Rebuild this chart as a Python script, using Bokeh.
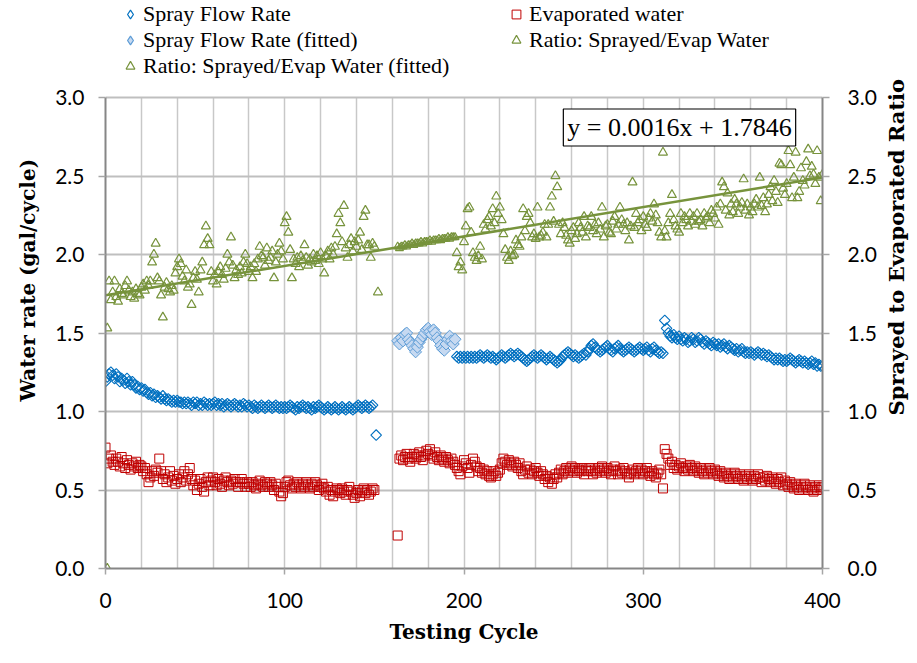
import math
import numpy as np
from bokeh.plotting import figure
from bokeh.layouts import row
from bokeh.models import (Range1d, LinearAxis, SingleIntervalTicker, NumeralTickFormatter,
                          Legend, LegendItem, Label, Title, BoxAnnotation)
from bokeh.embed import file_html
from bokeh.resources import INLINE

# ---------------- data ----------------
# Spray flow rate (gal/cycle): cycles 0-149, one outlier at 151, cycles 196-400
spray_a_start = 0
spray_a = [1.19, 1.22, 1.24, 1.25, 1.23, 1.21, 1.24, 1.22, 1.19, 1.21,
           1.20, 1.18, 1.21, 1.19, 1.17, 1.19, 1.17, 1.15, 1.16, 1.14,
           1.15, 1.13, 1.14, 1.12, 1.11, 1.12, 1.10, 1.11, 1.09, 1.10,
           1.09, 1.08, 1.10, 1.08, 1.07, 1.08, 1.07, 1.06, 1.07, 1.06,
           1.07, 1.06, 1.06, 1.05, 1.06, 1.05, 1.06, 1.05, 1.04, 1.06,
           1.05, 1.06, 1.04, 1.05, 1.04, 1.06, 1.05, 1.04, 1.05, 1.04,
           1.05, 1.06, 1.04, 1.05, 1.04, 1.05, 1.03, 1.04, 1.05, 1.04,
           1.03, 1.04, 1.05, 1.04, 1.03, 1.04, 1.03, 1.05, 1.04, 1.03,
           1.04, 1.03, 1.02, 1.04, 1.03, 1.02, 1.03, 1.04, 1.03, 1.02,
           1.03, 1.04, 1.03, 1.02, 1.03, 1.04, 1.03, 1.02, 1.03, 1.02,
           1.03, 1.02, 1.03, 1.04, 1.03, 1.02, 1.01, 1.03, 1.02, 1.03,
           1.04, 1.03, 1.02, 1.03, 1.02, 1.01, 1.03, 1.02, 1.03, 1.04,
           1.03, 1.02, 1.01, 1.02, 1.03, 1.02, 1.01, 1.02, 1.03, 1.02,
           1.01, 1.02, 1.03, 1.02, 1.01, 1.02, 1.03, 1.02, 1.01, 1.02,
           1.03, 1.04, 1.03, 1.02, 1.03, 1.04, 1.03, 1.02, 1.03, 1.04]
spray_outlier_cycles = [151]
spray_outlier = [0.85]
spray_b_start = 196
spray_b = [1.35, 1.34, 1.35, 1.34,
           1.35, 1.34, 1.35, 1.34, 1.35, 1.34, 1.35, 1.34, 1.35, 1.36,
           1.35, 1.34, 1.35, 1.36, 1.35, 1.34, 1.35, 1.34, 1.33, 1.34,
           1.35, 1.36, 1.35, 1.34, 1.35, 1.36, 1.37, 1.36, 1.35, 1.36,
           1.37, 1.36, 1.35, 1.34, 1.33, 1.32, 1.33, 1.34, 1.35, 1.36,
           1.35, 1.34, 1.35, 1.36, 1.35, 1.34, 1.33, 1.34, 1.35, 1.34,
           1.33, 1.32, 1.31, 1.32, 1.33, 1.35, 1.36, 1.37, 1.38, 1.37,
           1.36, 1.35, 1.36, 1.35, 1.34, 1.35, 1.36, 1.37, 1.36, 1.38,
           1.40, 1.42, 1.43, 1.41, 1.40, 1.39, 1.38, 1.39, 1.40, 1.41,
           1.42, 1.40, 1.39, 1.38, 1.40, 1.41, 1.42, 1.40, 1.39, 1.38,
           1.39, 1.40, 1.41, 1.40, 1.39, 1.38, 1.39, 1.40, 1.41, 1.40,
           1.39, 1.40, 1.41, 1.39, 1.38, 1.40, 1.41, 1.39, 1.38, 1.37,
           1.38, 1.37, 1.58, 1.53, 1.50, 1.48, 1.47, 1.49, 1.47, 1.46,
           1.48, 1.46, 1.45, 1.47, 1.46, 1.44, 1.45, 1.47, 1.46, 1.44,
           1.45, 1.47, 1.46, 1.44, 1.43, 1.45, 1.44, 1.43, 1.42, 1.44,
           1.43, 1.42, 1.43, 1.41, 1.42, 1.43, 1.41, 1.40, 1.42, 1.41,
           1.40, 1.39, 1.40, 1.38, 1.39, 1.40, 1.38, 1.37, 1.38, 1.37,
           1.38, 1.37, 1.36, 1.37, 1.38, 1.37, 1.36, 1.37, 1.36, 1.35,
           1.36, 1.35, 1.34, 1.33, 1.34, 1.33, 1.34, 1.33, 1.32, 1.33,
           1.32, 1.33, 1.34, 1.33, 1.32, 1.31, 1.32, 1.33, 1.32, 1.31,
           1.32, 1.31, 1.30, 1.31, 1.32, 1.30, 1.31, 1.29, 1.30, 1.29,
           1.29]

# Spray flow rate (fitted): cycles 163-195
spray_fit_start = 163
spray_fit = [1.45, 1.43, 1.47, 1.45, 1.49, 1.50, 1.46, 1.44, 1.42, 1.40,
             1.38, 1.41, 1.44, 1.46, 1.48, 1.50, 1.52, 1.53, 1.51, 1.49,
             1.52, 1.50, 1.47, 1.45, 1.42, 1.40, 1.39, 1.43, 1.46, 1.48,
             1.45, 1.43, 1.46]

# Evaporated water (gal/cycle): cycles 0-150, outlier at 163, cycles 164-400
evap_a_start = 0
evap_a = [0.77, 0.67, 0.70, 0.72, 0.68, 0.66, 0.70, 0.68, 0.65, 0.71,
          0.67, 0.64, 0.69, 0.66, 0.63, 0.67, 0.65, 0.68, 0.64, 0.66,
          0.65, 0.62, 0.64, 0.60, 0.55, 0.58, 0.62, 0.59, 0.63, 0.61,
          0.70, 0.62, 0.57, 0.60, 0.55, 0.58, 0.62, 0.56, 0.59, 0.54,
          0.57, 0.60, 0.55, 0.58, 0.62, 0.56, 0.60, 0.64, 0.57, 0.53,
          0.56, 0.50, 0.54, 0.57, 0.52, 0.49, 0.55, 0.58, 0.53, 0.56,
          0.58, 0.55, 0.53, 0.57, 0.54, 0.52, 0.56, 0.58, 0.55, 0.53,
          0.56, 0.54, 0.57, 0.55, 0.52, 0.55, 0.57, 0.54, 0.52, 0.55,
          0.54, 0.52, 0.55, 0.53, 0.51, 0.54, 0.56, 0.53, 0.52, 0.55,
          0.54, 0.52, 0.55, 0.53, 0.50, 0.54, 0.52, 0.49, 0.46, 0.48,
          0.52, 0.55, 0.56, 0.53, 0.51, 0.54, 0.52, 0.55, 0.53, 0.51,
          0.54, 0.52, 0.55, 0.53, 0.51, 0.54, 0.52, 0.55, 0.53, 0.50,
          0.52, 0.54, 0.51, 0.49, 0.52, 0.47, 0.50, 0.46, 0.49, 0.51,
          0.50, 0.48, 0.51, 0.49, 0.47, 0.50, 0.52, 0.49, 0.47, 0.45,
          0.48, 0.50, 0.46, 0.49, 0.51, 0.48, 0.50, 0.47, 0.49, 0.51,
          0.50]
evap_outlier_cycles = [163]
evap_outlier = [0.21]
evap_b_start = 164
evap_b = [0.70, 0.72, 0.69, 0.71, 0.73, 0.70,
          0.68, 0.71, 0.73, 0.70, 0.72, 0.74, 0.71, 0.69, 0.72, 0.75,
          0.73, 0.76, 0.72, 0.70, 0.74, 0.71, 0.69, 0.72, 0.70, 0.68,
          0.71, 0.69, 0.67, 0.70, 0.68, 0.66, 0.64, 0.62, 0.60, 0.65,
          0.69, 0.67, 0.64, 0.61, 0.66, 0.70, 0.68, 0.65, 0.62, 0.64,
          0.61, 0.63, 0.60, 0.62, 0.59, 0.58, 0.60, 0.62, 0.59, 0.61,
          0.63, 0.67, 0.70, 0.68, 0.66, 0.69, 0.67, 0.65, 0.68, 0.66,
          0.64, 0.67, 0.62, 0.60, 0.63, 0.65, 0.61, 0.63, 0.60, 0.62,
          0.64, 0.61, 0.59, 0.62, 0.60, 0.57, 0.59, 0.55, 0.58, 0.54,
          0.57, 0.60, 0.58, 0.61, 0.63, 0.60, 0.62, 0.64, 0.61, 0.63,
          0.65, 0.62, 0.64, 0.61, 0.63, 0.62, 0.64, 0.60, 0.63, 0.62,
          0.64, 0.62, 0.60, 0.63, 0.61, 0.64, 0.62, 0.65, 0.63, 0.61,
          0.64, 0.62, 0.60, 0.63, 0.65, 0.62, 0.60, 0.63, 0.61, 0.64,
          0.62, 0.60, 0.58, 0.61, 0.63, 0.60, 0.62, 0.64, 0.61, 0.63,
          0.60, 0.62, 0.64, 0.61, 0.59, 0.62, 0.60, 0.58, 0.61, 0.63,
          0.60, 0.51, 0.76, 0.73, 0.70, 0.66, 0.68, 0.64, 0.66, 0.63,
          0.65, 0.67, 0.64, 0.62, 0.65, 0.63, 0.66, 0.64, 0.62, 0.65,
          0.63, 0.61, 0.64, 0.62, 0.60, 0.63, 0.61, 0.64, 0.62, 0.60,
          0.63, 0.61, 0.59, 0.62, 0.60, 0.58, 0.61, 0.59, 0.57, 0.60,
          0.58, 0.61, 0.59, 0.57, 0.60, 0.58, 0.56, 0.59, 0.57, 0.60,
          0.58, 0.56, 0.59, 0.57, 0.60, 0.58, 0.55, 0.58, 0.56, 0.59,
          0.57, 0.55, 0.58, 0.56, 0.54, 0.57, 0.55, 0.58, 0.53, 0.56,
          0.54, 0.52, 0.55, 0.53, 0.51, 0.54, 0.52, 0.50, 0.53, 0.51,
          0.54, 0.52, 0.50, 0.53, 0.51, 0.49, 0.52, 0.50, 0.53, 0.51,
          0.52]

# Ratio sprayed / evaporated water
ratio_first_cycles = [1, 1]
ratio_first = [0.00, 1.53]
ratio_a_start = 2
ratio_a = [1.83, 1.71, 1.76, 1.83, 1.73, 1.70, 1.78, 1.75,
           1.74, 1.80, 1.83, 1.77, 1.73, 1.76, 1.72, 1.78, 1.75, 1.74,
           1.79, 1.81, 1.77, 1.83, 1.80, 1.83, 1.95, 2.00, 2.07, 1.85,
           1.83, 1.74, 1.60, 1.79, 1.82, 1.78, 1.76, 1.80, 1.77, 1.88,
           1.92, 1.97, 1.94, 1.86, 1.83, 1.90, 1.79, 1.81, 1.68, 1.85,
           1.89, 1.84, 1.76, 1.90, 1.95, 2.06, 2.18, 2.10, 2.06, 1.89,
           1.83, 1.87, 1.81, 1.89, 1.92, 1.87, 1.84, 1.91, 2.00, 1.95,
           2.11, 1.93, 1.85, 1.90, 1.87, 1.92, 1.88, 1.95, 2.00, 1.94,
           1.89, 1.92, 1.85, 1.94, 1.89, 1.97, 2.05, 1.99, 1.98, 1.93,
           2.04, 1.96, 1.98, 2.02, 1.85, 1.95, 2.00, 2.07, 2.02, 1.97,
           2.20, 2.24, 2.14, 2.03, 1.85, 1.97, 1.94, 1.98, 1.92, 1.99,
           1.96, 2.06, 1.98, 1.93, 1.97, 1.95, 2.00, 1.96, 1.99, 1.94,
           2.01, 1.97, 1.88, 1.99, 2.02, 1.97, 2.04, 2.00, 2.05, 2.13,
           2.26, 2.20, 2.08, 2.31, 2.04, 1.98, 2.06, 2.10, 2.02, 2.08,
           2.05, 2.09, 2.14, 2.03, 2.24, 2.28, 2.06, 2.06, 1.98, 2.07,
           2.05]
ratio_outlier_cycles = [152]
ratio_outlier = [1.76]
ratio_b_start = 196
ratio_b = [2.01, 1.92, 1.95, 1.90,
           2.08, 2.18, 2.29, 2.30, 2.14, 2.01, 1.98, 1.96, 1.99, 2.05,
           1.97, 2.19, 2.16, 2.22, 2.24, 2.18, 2.29, 2.20, 2.37, 2.26,
           2.30, 2.22, 2.13, 2.03, 1.98, 1.96, 2.02, 1.99, 2.00, 2.09,
           2.06, 2.05, 2.11, 2.29, 2.15, 2.24, 2.26, 2.20, 2.11, 2.13,
           2.10, 2.30, 2.11, 2.12, 2.14, 2.19, 2.11, 2.19, 2.30, 2.37,
           2.21, 2.50, 2.43, 2.19, 2.13, 2.20, 2.17, 2.12, 2.09, 2.07,
           2.15, 2.17, 2.10, 2.13, 2.20, 2.17, 2.14, 2.24, 2.11, 2.18,
           2.17, 2.24, 2.15, 2.19, 2.13, 2.20, 2.16, 2.30, 2.11, 2.18,
           2.19, 2.14, 2.13, 2.21, 2.24, 2.16, 2.19, 2.30, 2.22, 2.19,
           2.15, 2.20, 2.09, 2.18, 2.46, 2.17, 2.26, 2.20, 2.22, 2.15,
           2.24, 2.19, 2.17, 2.23, 2.26, 2.21, 2.32, 2.25, 2.20, 2.14,
           2.11, 2.65, 2.15, 2.11, 2.20, 2.26, 2.38, 2.22, 2.18, 2.16,
           2.14, 2.26, 2.20, 2.24, 2.22, 2.18, 2.26, 2.21, 2.24, 2.19,
           2.26, 2.21, 2.22, 2.18, 2.26, 2.23, 2.24, 2.20, 2.28, 2.26,
           2.23, 2.30, 2.19, 2.32, 2.46, 2.43, 2.28, 2.39, 2.25, 2.32,
           2.27, 2.35, 2.32, 2.26, 2.30, 2.33, 2.48, 2.28, 2.32, 2.25,
           2.30, 2.27, 2.32, 2.35, 2.30, 2.49, 2.31, 2.36, 2.27, 2.32,
           2.38, 2.43, 2.34, 2.47, 2.40, 2.33, 2.58, 2.57, 2.42, 2.38,
           2.45, 2.66, 2.57, 2.36, 2.49, 2.65, 2.36, 2.40, 2.55, 2.47,
           2.44, 2.59, 2.67, 2.50, 2.56, 2.51, 2.45, 2.66, 2.49, 2.34,
           2.51]

# Ratio (fitted): cycles 163-195
ratio_fit_start = 163
ratio_fit = [2.05, 2.04, 2.05, 2.05, 2.06, 2.05, 2.06, 2.06, 2.07, 2.06,
             2.07, 2.07, 2.07, 2.08, 2.07, 2.08, 2.08, 2.08, 2.09, 2.08,
             2.09, 2.09, 2.09, 2.10, 2.09, 2.10, 2.10, 2.10, 2.11, 2.10,
             2.11, 2.11, 2.11]

# Linear trend line of the ratio (end points as drawn)
trend_cycles = [0, 400]
trend_vals = [1.74, 2.49]
trend_text = "y = 0.0016x + 1.7846"

X_MIN, X_MAX = 0, 400
Y_MIN, Y_MAX = 0.0, 3.0
x_ticks_major = 100
x_grid_step = 20
y_step = 0.5


def cycles(start, vals):
    return list(range(start, start + len(vals)))


spray_x = cycles(spray_a_start, spray_a) + spray_outlier_cycles + cycles(spray_b_start, spray_b)
spray_y = spray_a + spray_outlier + spray_b
spray_fit_x = cycles(spray_fit_start, spray_fit)
evap_x = cycles(evap_a_start, evap_a) + evap_outlier_cycles + cycles(evap_b_start, evap_b)
evap_y = evap_a + evap_outlier + evap_b
ratio_x = ratio_first_cycles + cycles(ratio_a_start, ratio_a) + ratio_outlier_cycles + cycles(ratio_b_start, ratio_b)
ratio_y = ratio_first + ratio_a + ratio_outlier + ratio_b
ratio_fit_x = cycles(ratio_fit_start, ratio_fit)

# ---------------- layout ----------------
TOTAL_W, H = 909, 647
TITLE_W = 30                       # narrow strip on the right that holds the right-hand title
W = TOTAL_W - TITLE_W
LEFT, RIGHT, BOTTOM = 105, 57, 79
PLOT_TOP = 97                      # pixel row of the 3.0 line
FRAME_H = H - BOTTOM               # frame spans the whole height above the x axis
PLOT_H = FRAME_H - PLOT_TOP
y_end = Y_MAX * FRAME_H / PLOT_H   # extra room above 3.0 holds the legend

TICK_FONT = "Lato"
SERIF = "Liberation Serif"
TITLE_FONT = "DejaVu Serif"

p = figure(width=W, height=H, x_range=Range1d(X_MIN, X_MAX), y_range=Range1d(Y_MIN, y_end),
           output_backend="svg", toolbar_location=None,
           min_border_left=LEFT, min_border_right=RIGHT, min_border_top=0,
           min_border_bottom=BOTTOM)
p.outline_line_color = None
p.background_fill_color = "white"
p.border_fill_color = "white"
p.extra_y_ranges = {"ratio": Range1d(Y_MIN, y_end)}

axis_color = "#868686"
tick_color = "#a6a6a6"

# x axis
xa = p.xaxis[0]
xa.ticker = SingleIntervalTicker(interval=x_ticks_major, num_minor_ticks=0)
xa.axis_line_color = axis_color
xa.axis_line_width = 2
xa.major_tick_line_color = tick_color
xa.major_tick_line_width = 1.5
xa.major_tick_in = 0
xa.major_tick_out = 6
xa.minor_tick_line_color = None
xa.major_label_standoff = 18
xa.major_label_text_font = TICK_FONT
xa.major_label_text_font_size = "21px"
xa.major_label_text_color = "black"
xa.axis_label = "Testing Cycle"
xa.axis_label_text_font = TITLE_FONT
xa.axis_label_text_font_style = "bold"
xa.axis_label_text_font_size = "20px"
xa.axis_label_text_color = "black"
xa.axis_label_standoff = 9

ya = p.yaxis[0]
ratio_axis = LinearAxis(y_range_name="ratio")
p.add_layout(ratio_axis, "right")
for ax, standoff in ((ya, 14), (ratio_axis, 18)):
    ax.bounds = (Y_MIN, Y_MAX)
    ax.ticker = SingleIntervalTicker(interval=y_step, num_minor_ticks=0)
    ax.formatter = NumeralTickFormatter(format="0.0")
    ax.axis_line_color = axis_color
    ax.axis_line_width = 2
    ax.major_tick_line_color = tick_color
    ax.major_tick_line_width = 1.5
    ax.major_tick_in = 0
    ax.major_tick_out = 7
    ax.minor_tick_line_color = None
    ax.major_label_standoff = standoff
    ax.major_label_text_font = TICK_FONT
    ax.major_label_text_font_size = "21px"
    ax.major_label_text_color = "black"

p.xgrid.ticker = SingleIntervalTicker(interval=x_grid_step, num_minor_ticks=0)
p.xgrid.grid_line_color = "#c8c8c8"
p.xgrid.grid_line_width = 1.5
p.ygrid.bounds = (Y_MIN, Y_MAX)
p.ygrid.grid_line_color = "#bfbfbf"
p.ygrid.grid_line_width = 2
has_cross = "cross_bounds" in p.xgrid[0].properties()
if has_cross:
    p.xgrid.cross_bounds = (Y_MIN, Y_MAX)

# left title, placed like the reference (shifted toward the top)
left_title = Title(text="Water rate (gal/cycle)", align="left", offset=167,
                   text_font=TITLE_FONT, text_font_style="bold",
                   text_font_size="20px", text_color="black", standoff=26)
p.add_layout(left_title, "left")

# ---------------- series ----------------
SPRAY_C, SPRAY_FIT_FILL, SPRAY_FIT_LINE = "#0070C0", "#C6D9F1", "#5B9BD5"
EVAP_C, RATIO_C = "#C00000", "#77933C"

r_trend = p.line(trend_cycles, trend_vals, y_range_name="ratio",
                 line_color=RATIO_C, line_width=2.5)
r_ratio = p.scatter(ratio_x, ratio_y, y_range_name="ratio", marker="triangle", size=9,
                    fill_color=None, line_color=RATIO_C, line_width=1.2)
r_ratio_fit = p.scatter(ratio_fit_x, ratio_fit, y_range_name="ratio", marker="triangle", size=8,
                        fill_color=None, line_color=RATIO_C, line_width=1.2)
r_evap = p.scatter(evap_x, evap_y, marker="square", size=9,
                   fill_color=None, line_color=EVAP_C, line_width=1)
r_spray = p.scatter(spray_x, spray_y, marker="square", angle=math.pi / 4, size=7.5,
                    fill_color=None, line_color=SPRAY_C, line_width=1.1)
r_spray_fit = p.scatter(spray_fit_x, spray_fit, marker="square", angle=math.pi / 4, size=8.5,
                        fill_color=SPRAY_FIT_FILL, line_color=SPRAY_FIT_LINE, line_width=1)

# legend swatches (Bokeh never rotates legend markers, so use diamond markers there);
# their single point has no y value, so nothing is drawn in the plot area
no_value = np.array([np.nan])
lg_spray = p.scatter(np.array([X_MIN]), no_value, marker="diamond", size=10, fill_color=None,
                     line_color=SPRAY_C, line_width=1.2)
lg_spray_fit = p.scatter(np.array([X_MIN]), no_value, marker="diamond", size=10,
                         fill_color=SPRAY_FIT_FILL, line_color=SPRAY_FIT_LINE, line_width=1.2)

# white cover above the 3.0 line hides the vertical grid lines there
if not has_cross:
    cover_px = 1.5 * (Y_MAX - Y_MIN) / PLOT_H
    p.add_layout(BoxAnnotation(bottom=Y_MAX + cover_px, fill_color="white", fill_alpha=1.0,
                               line_color=None))

# ---------------- legends (in the area above the 3.0 line) ----------------
def make_legend(items, x, y):
    return Legend(items=items, location=(x, y), orientation="vertical",
                  label_text_font=SERIF, label_text_font_size="22px",
                  label_text_color="black", label_height=24, glyph_height=24,
                  glyph_width=22, label_standoff=2, spacing=0, padding=0, margin=0,
                  border_line_color=None, background_fill_alpha=0)


leg1 = make_legend([LegendItem(label="Spray Flow Rate", renderers=[lg_spray]),
                    LegendItem(label="Spray Flow Rate (fitted)", renderers=[lg_spray_fit]),
                    LegendItem(label="Ratio: Sprayed/Evap Water (fitted)", renderers=[r_ratio_fit])],
                   14, FRAME_H - 79)
leg2 = make_legend([LegendItem(label="Evaporated water", renderers=[r_evap]),
                    LegendItem(label="Ratio: Sprayed/Evap Water", renderers=[r_ratio])],
                   400, FRAME_H - 53)
p.add_layout(leg1)
p.add_layout(leg2)

# ---------------- equation box ----------------
eq = Label(x=574, y=FRAME_H - 127, x_units="screen", y_units="screen", text=trend_text,
           text_align="center", text_baseline="middle",
           text_font=SERIF, text_font_size="26px", text_color="black",
           background_fill_color="white", border_line_color="black",
           border_line_width=1.2, padding=4)
p.add_layout(eq)

# ---------------- right-hand title strip ----------------
pt = figure(width=TITLE_W, height=H, x_range=Range1d(0, TITLE_W), y_range=Range1d(0, H),
            output_backend="svg", toolbar_location=None, x_axis_type=None, y_axis_type=None,
            min_border=0)
pt.outline_line_color = None
pt.grid.visible = False
pt.background_fill_color = "white"
pt.border_fill_color = "white"
pt.add_layout(Label(x=TITLE_W / 2 + 2, y=H - 281, text="Sprayed to Evaporated Ratio",
                    angle=math.pi / 2, text_align="center", text_baseline="middle",
                    text_font=TITLE_FONT, text_font_style="bold",
                    text_font_size="21px", text_color="black"))

layout = row(p, pt, spacing=0)
open("out.html", "w").write(file_html(layout, INLINE))
